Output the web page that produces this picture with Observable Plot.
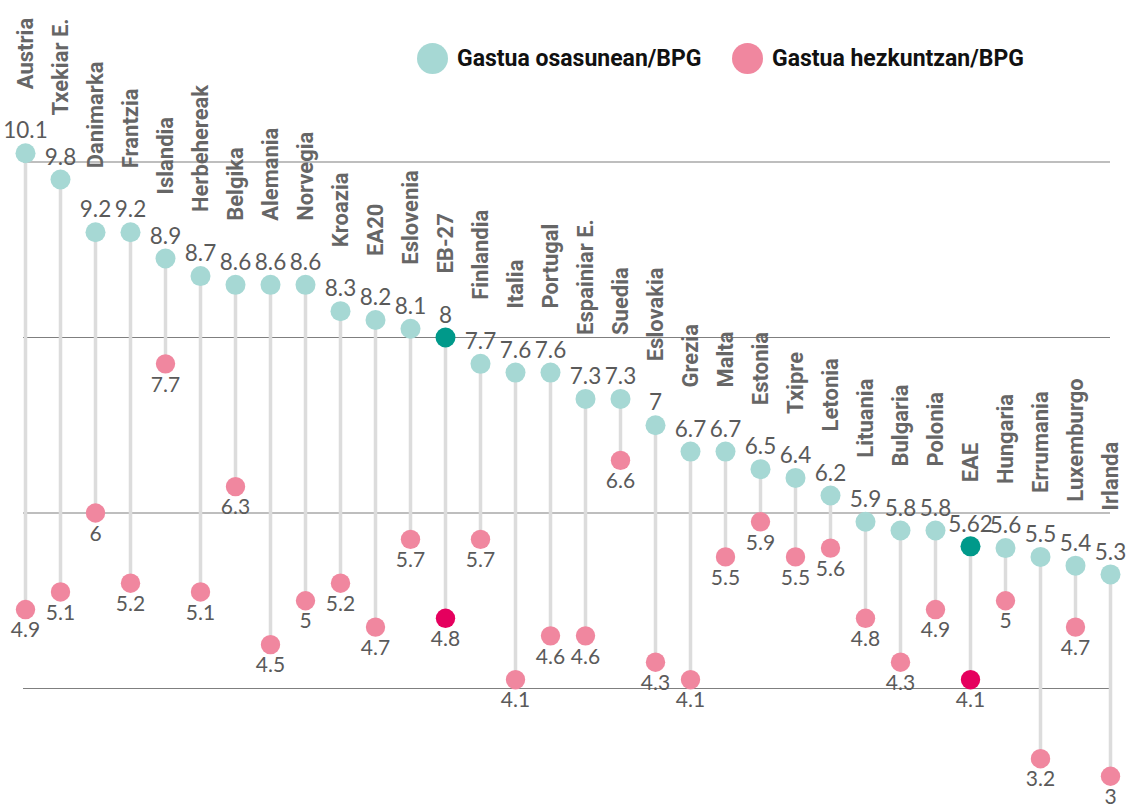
<!DOCTYPE html>
<html>
<head>
<meta charset="utf-8">
<script src="https://cdn.jsdelivr.net/npm/d3@7"></script>
<script src="https://cdn.jsdelivr.net/npm/@observablehq/plot@0.6"></script>
<style>
  html, body { margin: 0; padding: 0; background: #fff; }
  #wrap { position: relative; width: 1130px; height: 807px; }
  .legend { position: absolute; top: 43px; left: 0; font-family: Roboto, sans-serif; font-weight: 700; font-size: 23px; color: #111; }
  .item { position: absolute; display: flex; align-items: center; white-space: nowrap; }
  .sw { width: 31px; height: 31px; border-radius: 50%; margin-right: 9px; }
</style>
</head>
<body>
<div id="wrap">
  <div id="chart"></div>
  <div class="legend">
    <div class="item" style="left:417px"><span class="sw" style="background:#a6d8d4"></span>Gastua osasunean/BPG</div>
    <div class="item" style="left:732px"><span class="sw" style="background:#f0879f"></span>Gastua hezkuntzan/BPG</div>
  </div>
</div>
<script>
const countries = ["Austria","Txekiar E.","Danimarka","Frantzia","Islandia","Herbehereak","Belgika","Alemania","Norvegia","Kroazia","EA20","Eslovenia","EB-27","Finlandia","Italia","Portugal","Espainiar E.","Suedia","Eslovakia","Grezia","Malta","Estonia","Txipre","Letonia","Lituania","Bulgaria","Polonia","EAE","Hungaria","Errumania","Luxemburgo","Irlanda"];
const health = [10.1,9.8,9.2,9.2,8.9,8.7,8.6,8.6,8.6,8.3,8.2,8.1,8,7.7,7.6,7.6,7.3,7.3,7,6.7,6.7,6.5,6.4,6.2,5.9,5.8,5.8,5.62,5.6,5.5,5.4,5.3];
const education = [4.9,5.1,6,5.2,7.7,5.1,6.3,4.5,5,5.2,4.7,5.7,4.8,5.7,4.1,4.6,4.6,6.6,4.3,4.1,5.5,5.9,5.5,5.6,4.8,4.3,4.9,4.1,5,3.2,4.7,3];
const highlighted = ["EB-27","EAE"];
const gridValues = [4,6,8,10];

const data = countries.map((c, i) => ({country: c, health: health[i], edu: education[i], hi: highlighted.includes(c)}));

const pxPerUnit = (688 - 161.5) / 6;
const labelOffset = 64 / pxPerUnit;

const chart = Plot.plot({
  width: 1130,
  height: 807,
  marginLeft: 23,
  marginRight: 20,
  marginTop: 0,
  marginBottom: 0,
  x: {type: "point", domain: countries, range: [25, 1110], padding: 0, axis: null},
  y: {domain: [4, 10], range: [688, 161.5], axis: null},
  color: {type: "identity"},
  style: {fontFamily: "Lato, sans-serif", background: "transparent"},
  marks: [
    Plot.ruleY(gridValues, {stroke: "#7f7f7f", strokeWidth: 1.2}),
    Plot.link(data, {x1: "country", x2: "country", y1: "health", y2: "edu", stroke: "#dcdcdc", strokeWidth: 3.5}),
    Plot.dot(data, {x: "country", y: "edu", r: 9.7, fill: d => d.hi ? "#e5005e" : "#f0879f", stroke: null}),
    Plot.dot(data, {x: "country", y: "health", r: 10, fill: d => d.hi ? "#00998a" : "#a6d8d4", stroke: null}),
    Plot.text(data, {x: "country", y: "health", text: d => String(d.health), dy: -22, fontSize: 22.5, fill: "#5a5a5a", fontFamily: "Lato, sans-serif"}),
    Plot.text(data, {x: "country", y: "edu", text: d => String(d.edu), dy: 21, fontSize: 21, fill: "#5a5a5a", fontFamily: "Lato, sans-serif"}),
    Plot.text(data, {x: "country", y: d => d.health + labelOffset, text: "country", rotate: -90, textAnchor: "start", lineAnchor: "middle", fontSize: 22, fontWeight: 700, fill: "#666", fontFamily: "Roboto, sans-serif"})
  ]
});
document.getElementById("chart").appendChild(chart);
</script>
</body>
</html>
